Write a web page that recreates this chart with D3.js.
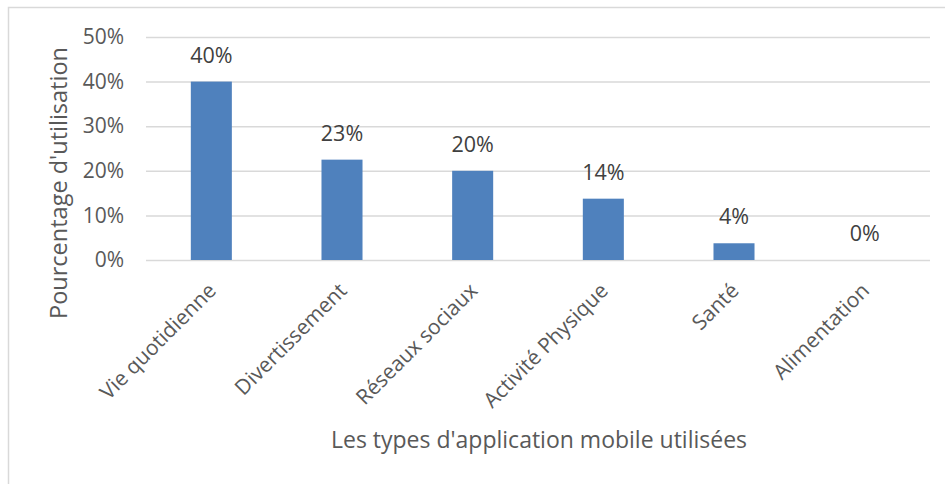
<!DOCTYPE html>
<html>
<head>
<meta charset="utf-8">
<script src="https://cdn.jsdelivr.net/npm/d3@7"></script>
<style>
  body { margin: 0; background: #fff; }
  svg { display: block; }
</style>
</head>
<body>
<div id="chart"></div>
<script>
var categories = ["Vie quotidienne", "Divertissement", "Réseaux sociaux", "Activité Physique", "Santé", "Alimentation"]
var values = [0.40, 0.225, 0.20, 0.1375, 0.0375, 0]
var yTicks = [0, 0.1, 0.2, 0.3, 0.4, 0.5]

var W = 945, H = 484
var margin = {top: 37, right: 15, bottom: 224, left: 146},
    width = W - margin.left - margin.right,
    height = H - margin.top - margin.bottom;

var svg = d3.select("#chart").append("svg")
    .attr("width", W)
    .attr("height", H)

// frame (cut off on right and bottom like the source)
svg.append("rect")
    .attr("x", 8.5).attr("y", 7.5)
    .attr("width", W + 20).attr("height", H + 20)
    .attr("fill", "none")
    .attr("stroke", "#d9d9d9")
    .attr("stroke-width", 1.5)

var g = svg.append("g")
    .attr("transform", "translate(" + margin.left + "," + margin.top + ")")

var x = d3.scaleBand()
    .domain(categories)
    .range([0, width])
    .paddingInner(0.686)
    .paddingOuter(0.343)

var y = d3.scaleLinear()
    .domain([0, 0.5])
    .range([height, 0])

// gridlines + y labels
var yAxis = g.append("g")
    .call(d3.axisLeft(y).tickValues(yTicks).tickFormat(d3.format(".0%")).tickSize(-width).tickPadding(22))
yAxis.select(".domain").remove()
yAxis.selectAll(".tick line").attr("stroke", "#d9d9d9").attr("stroke-width", 1.5)
yAxis.selectAll(".tick text")
    .attr("fill", "#595959")
    .style("font-family", "Open Sans")
    .style("font-size", "21px")

// bars
g.selectAll(".bar")
    .data(values)
    .enter()
    .append("rect")
    .attr("x", function(d, i) { return x(categories[i]) })
    .attr("y", function(d) { return y(d) })
    .attr("width", x.bandwidth())
    .attr("height", function(d) { return height - y(d) })
    .attr("fill", "#4f81bd")

// value labels
g.selectAll(".lbl")
    .data(values)
    .enter()
    .append("text")
    .attr("x", function(d, i) { return x(categories[i]) + x.bandwidth() / 2 })
    .attr("y", function(d) { return y(d) - 19 })
    .attr("text-anchor", "middle")
    .attr("fill", "#404040")
    .style("font-family", "Open Sans")
    .style("font-size", "21.5px")
    .text(function(d) { return Math.round(d * 100) + "%" })

// category labels, rotated
g.selectAll(".cat")
    .data(categories)
    .enter()
    .append("text")
    .attr("transform", function(d) {
        return "translate(" + (x(d) + x.bandwidth() / 2 + 6) + "," + (height + 32) + ") rotate(-45)"
    })
    .attr("text-anchor", "end")
    .attr("fill", "#595959")
    .style("font-family", "Open Sans")
    .style("font-size", "21px")
    .text(function(d) { return d })

// axis titles
svg.append("text")
    .attr("transform", "translate(67,183) rotate(-90)")
    .attr("text-anchor", "middle")
    .attr("fill", "#595959")
    .style("font-family", "Open Sans")
    .style("font-size", "23.5px")
    .text("Pourcentage d'utilisation")

svg.append("text")
    .attr("x", 539)
    .attr("y", 448)
    .attr("text-anchor", "middle")
    .attr("fill", "#595959")
    .style("font-family", "Open Sans")
    .style("font-size", "23px")
    .text("Les types d'application mobile utilisées")
</script>
</body>
</html>
